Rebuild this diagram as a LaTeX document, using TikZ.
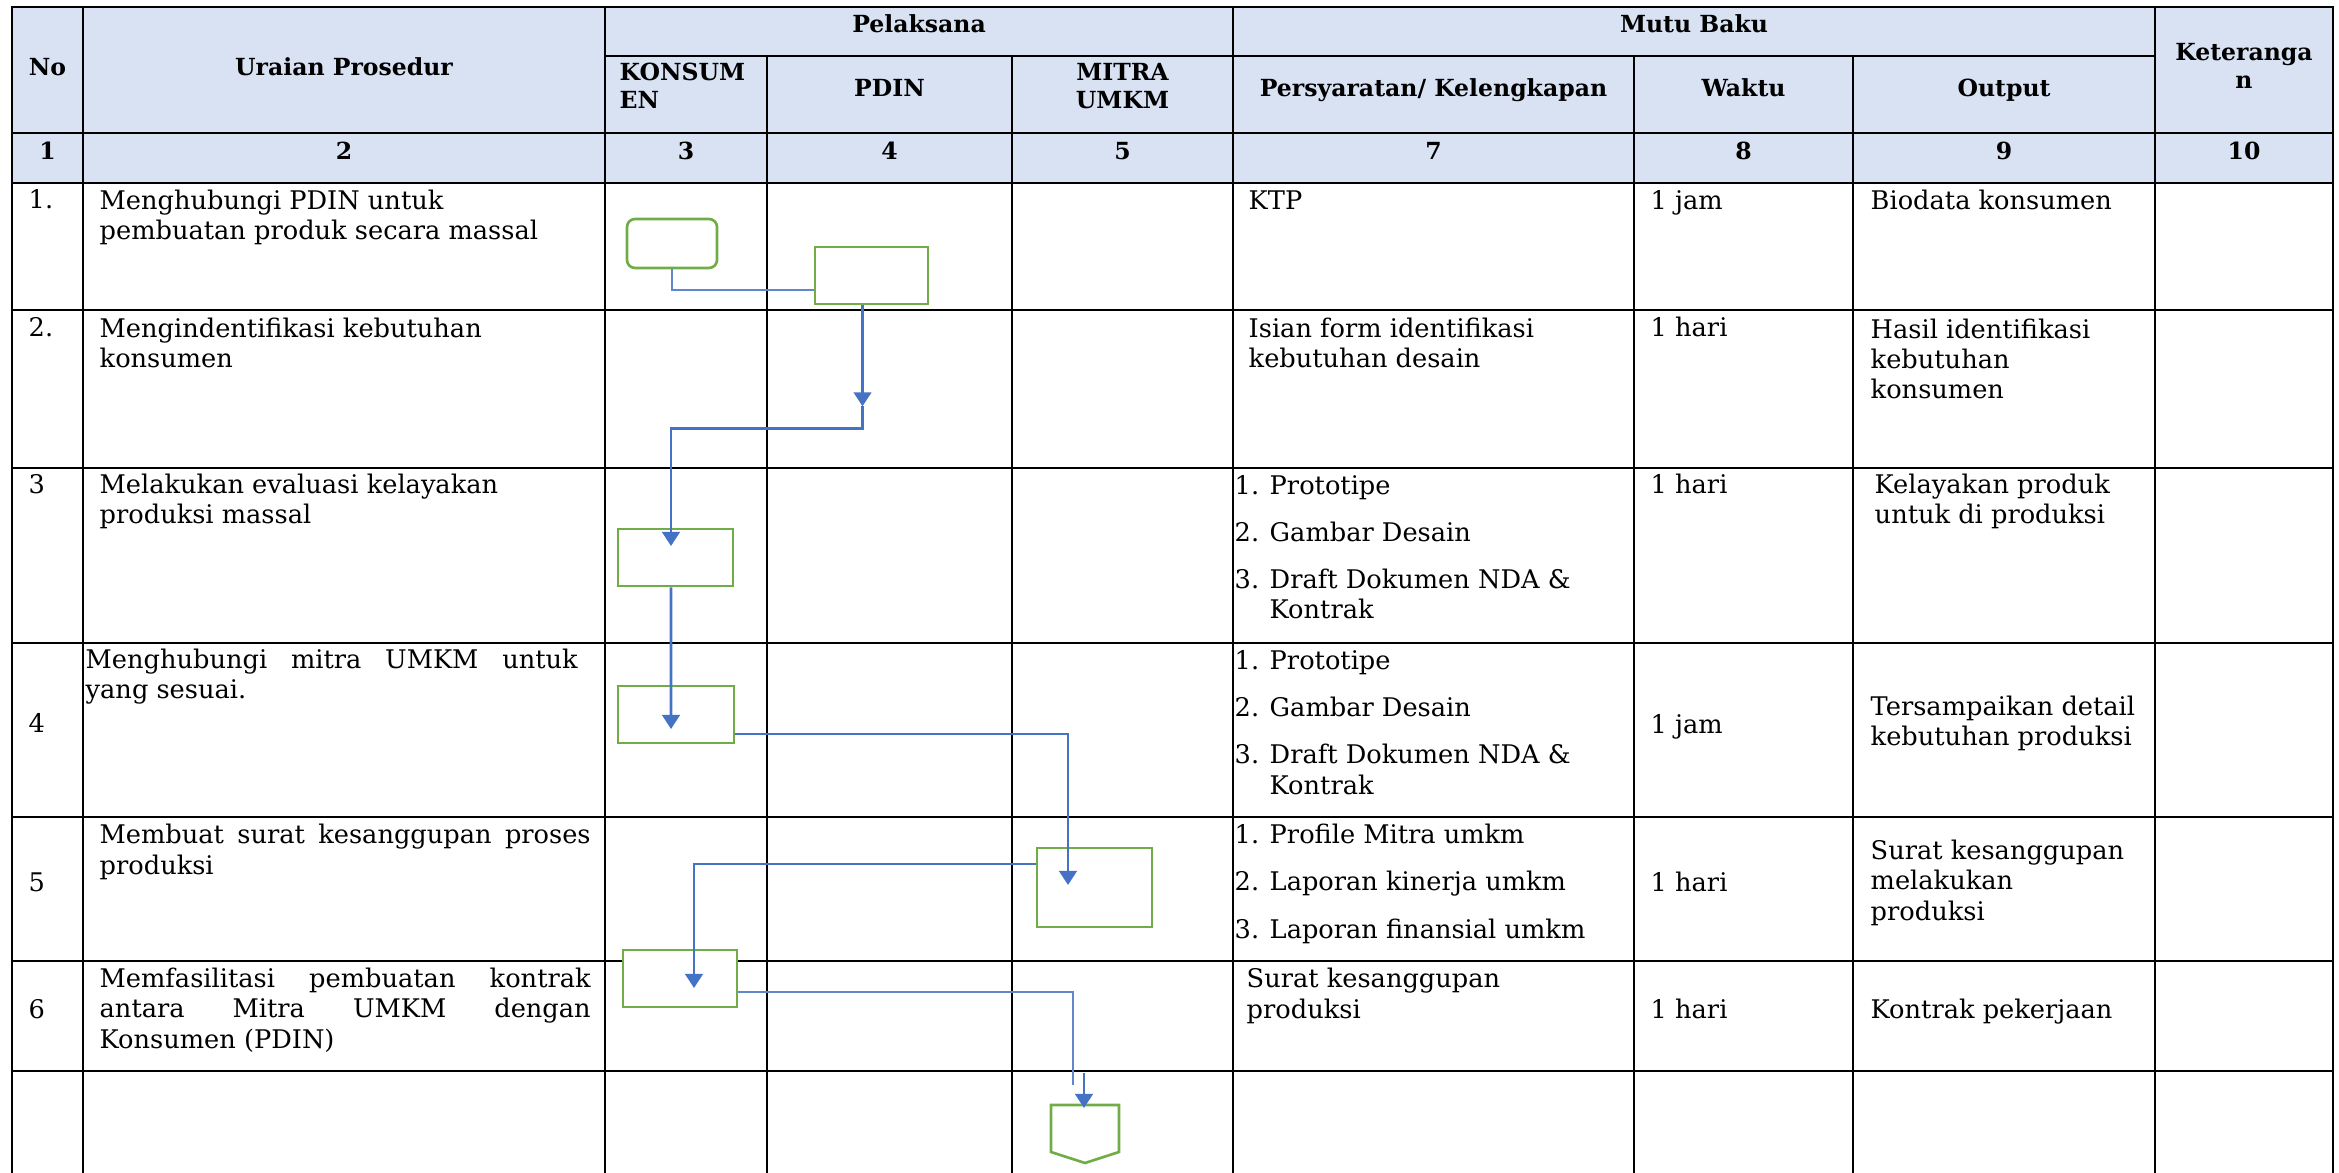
\documentclass[tikz,border=0pt]{standalone}
\usepackage{fontspec}
\setmainfont{DejaVu Serif}
\usetikzlibrary{arrows.meta}

\definecolor{hdrblue}{HTML}{D9E2F3}
\definecolor{boxgreen}{HTML}{70AD47}
\definecolor{linkblue}{HTML}{4472C4}

\newcommand{\itm}[1]{\makebox[0.35cm][l]{#1}}
\newcommand{\jline}[1]{\makebox[4.91cm][s]{#1}}

\begin{document}
\begin{tikzpicture}[
    hd/.style={font=\bfseries\fontsize{6.7}{8.2}\selectfont, align=center, anchor=base, inner sep=0},
    txt/.style={font=\fontsize{7.3}{8.6}\selectfont, align=left, anchor=base west, inner sep=0},
    grid/.style={line width=0.75pt, line cap=rect},
    flowbox/.style={draw=boxgreen, fill=white, line width=0.75pt, inner sep=0, minimum height=0.57cm},
    link/.style={draw=linkblue, line width=0.75pt, -{Triangle[width=5pt,length=4pt]}},
    thinlink/.style={draw=linkblue!85!white, line width=0.35pt}]
    \useasboundingbox (0,0) rectangle (23.39,-11.73);

    % header background
    \fill[hdrblue] (0.12,-0.07) rectangle (23.33,-1.83);

    % table lines
    \draw[grid] (0.12,-0.07) -- (23.33,-0.07);
    \draw[grid] (6.05,-0.56) -- (21.55,-0.56);
    \draw[grid] (0.12,-1.33) -- (23.33,-1.33);
    \draw[grid] (0.12,-1.83) -- (23.33,-1.83);
    \draw[grid] (0.12,-3.10) -- (23.33,-3.10);
    \draw[grid] (0.12,-4.68) -- (23.33,-4.68);
    \draw[grid] (0.12,-6.43) -- (23.33,-6.43);
    \draw[grid] (0.12,-8.17) -- (23.33,-8.17);
    \draw[grid] (0.12,-9.61) -- (23.33,-9.61);
    \draw[grid] (0.12,-10.71) -- (23.33,-10.71);
    \draw[grid] (0.12,-0.07) -- (0.12,-11.73);
    \draw[grid] (0.83,-0.07) -- (0.83,-11.73);
    \draw[grid] (6.05,-0.07) -- (6.05,-11.73);
    \draw[grid] (7.67,-0.56) -- (7.67,-11.73);
    \draw[grid] (10.12,-0.56) -- (10.12,-11.73);
    \draw[grid] (12.33,-0.07) -- (12.33,-11.73);
    \draw[grid] (16.34,-0.56) -- (16.34,-11.73);
    \draw[grid] (18.53,-0.56) -- (18.53,-11.73);
    \draw[grid] (21.55,-0.07) -- (21.55,-11.73);
    \draw[grid] (23.33,-0.07) -- (23.33,-11.73);

    % header (multi-line nodes sit on their last line)
    \node[hd] (hno) at (0.475,-0.76) {No};
    \node[hd] (hur) at (3.44,-0.76) {Uraian Prosedur};
    \node[hd] (hpel) at (9.19,-0.33) {Pelaksana};
    \node[hd, anchor=base west, align=left] (hkon) at (6.19,-1.09) {KONSUM\\EN};
    \node[hd] (hpdin) at (8.895,-0.97) {PDIN};
    \node[hd] (hmit) at (11.225,-1.09) {MITRA\\UMKM};
    \node[hd] (hmutu) at (16.94,-0.33) {Mutu Baku};
    \node[hd] (hsyr) at (14.335,-0.97) {Persyaratan/ Kelengkapan};
    \node[hd] (hwkt) at (17.435,-0.97) {Waktu};
    \node[hd] (hout) at (20.04,-0.97) {Output};
    \node[hd] (hket) at (22.44,-0.89) {Keteranga\\n};

    \node[hd] (n1) at (0.475,-1.60) {1};
    \node[hd] (n2) at (3.44,-1.60) {2};
    \node[hd] (n3) at (6.86,-1.60) {3};
    \node[hd] (n4) at (8.895,-1.60) {4};
    \node[hd] (n5) at (11.225,-1.60) {5};
    \node[hd] (n7) at (14.335,-1.60) {7};
    \node[hd] (n8) at (17.435,-1.60) {8};
    \node[hd] (n9) at (20.04,-1.60) {9};
    \node[hd] (n10) at (22.44,-1.60) {10};

    % row 1
    \node[txt] (no1) at (0.28,-2.09) {1.};
    \node[txt] (ur1) at (0.99,-2.40) {Menghubungi PDIN untuk\\pembuatan produk secara massal};
    \node[txt] (syr1) at (12.48,-2.10) {KTP};
    \node[txt] (wkt1) at (16.50,-2.10) {1 jam};
    \node[txt] (out1) at (18.70,-2.10) {Biodata konsumen};

    % row 2
    \node[txt] (no2) at (0.28,-3.37) {2.};
    \node[txt] (ur2) at (0.99,-3.68) {Mengindentifikasi kebutuhan\\konsumen};
    \node[txt] (syr2) at (12.48,-3.68) {Isian form identifikasi\\kebutuhan desain};
    \node[txt] (wkt2) at (16.50,-3.37) {1 hari};
    \node[txt] (out2) at (18.70,-3.99) {Hasil identifikasi\\kebutuhan\\konsumen};

    % row 3
    \node[txt] (no3) at (0.28,-4.94) {3};
    \node[txt] (ur3) at (0.99,-5.24) {Melakukan evaluasi kelayakan\\produksi massal};
    \node[txt] (syr3) at (12.34,-6.19) {\itm{1.}Prototipe\\[4.8pt]\itm{2.}Gambar Desain\\[4.8pt]\itm{3.}Draft Dokumen NDA \&\\\hspace*{0.35cm}Kontrak};
    \node[txt] (wkt3) at (16.50,-4.94) {1 hari};
    \node[txt] (out3) at (18.74,-5.24) {Kelayakan produk\\untuk di produksi};

    % row 4
    \node[txt] (no4) at (0.28,-7.33) {4};
    \node[txt] (ur4) at (0.85,-6.99) {\makebox[4.92cm][s]{Menghubungi mitra UMKM untuk}\\yang sesuai.};
    \node[txt] (syr4) at (12.34,-7.94) {\itm{1.}Prototipe\\[4.8pt]\itm{2.}Gambar Desain\\[4.8pt]\itm{3.}Draft Dokumen NDA \&\\\hspace*{0.35cm}Kontrak};
    \node[txt] (wkt4) at (16.50,-7.34) {1 jam};
    \node[txt] (out4) at (18.70,-7.46) {Tersampaikan detail\\kebutuhan produksi};

    % row 5
    \node[txt] (no5) at (0.28,-8.92) {5};
    \node[txt] (ur5) at (0.99,-8.74) {\jline{Membuat surat kesanggupan proses}\\produksi};
    \node[txt] (syr5) at (12.34,-9.38) {\itm{1.}Profile Mitra umkm\\[4.8pt]\itm{2.}Laporan kinerja umkm\\[4.8pt]\itm{3.}Laporan finansial umkm};
    \node[txt] (wkt5) at (16.50,-8.92) {1 hari};
    \node[txt] (out5) at (18.70,-9.20) {Surat kesanggupan\\melakukan\\produksi};

    % row 6
    \node[txt] (no6) at (0.28,-10.18) {6};
    \node[txt] (ur6) at (0.99,-10.48) {\jline{Memfasilitasi pembuatan kontrak}\\\jline{antara Mitra UMKM dengan}\\Konsumen (PDIN)};
    \node[txt] (syr6) at (12.46,-10.18) {Surat kesanggupan\\produksi};
    \node[txt] (wkt6) at (16.50,-10.18) {1 hari};
    \node[txt] (out6) at (18.70,-10.18) {Kontrak pekerjaan};

    % flow shapes
    \node[flowbox, rounded corners=0.08cm, minimum width=0.90cm, minimum height=0.49cm] (start) at (6.72,-2.435) {};
    \node[flowbox, minimum width=1.13cm] (p1) at (8.715,-2.755) {};
    \node[flowbox, minimum width=1.15cm] (k3) at (6.755,-5.575) {};
    \node[flowbox, minimum width=1.16cm] (k4) at (6.76,-7.145) {};
    \node[flowbox, minimum width=1.15cm, minimum height=0.79cm] (m5) at (10.945,-8.875) {};
    \node[flowbox, minimum width=1.14cm] (k6) at (6.80,-9.785) {};
    \draw[draw=boxgreen, fill=white, line width=0.75pt] (10.51,-11.05) -- (11.19,-11.05) -- (11.19,-11.52) -- (10.85,-11.63) -- (10.51,-11.52) -- cycle;
    \coordinate (off) at (10.85,-11.05);
    \coordinate (end6) at (10.73,-10.85);

    % connectors
    \draw[thinlink] (start.south) |- ([yshift=-0.145cm]p1.west);
    \draw[link] ([xshift=-0.09cm]p1.south) -- ++(0,-1.01) coordinate (bend2);
    \draw[link] (bend2) -- ++(0,-0.22) -| ([xshift=-0.045cm,yshift=0.115cm]k3.center);
    \draw[link] ([xshift=-0.045cm]k3.south) -- ([xshift=-0.05cm,yshift=-0.145cm]k4.center);
    \draw[link] ([yshift=-0.195cm]k4.east) -| ([xshift=-0.265cm,yshift=0.025cm]m5.center);
    \draw[link] ([yshift=0.235cm]m5.west) -| ([xshift=0.14cm,yshift=-0.095cm]k6.center);
    \draw[thinlink] ([yshift=-0.135cm]k6.east) -| (end6);
    \draw[link] ([xshift=-0.01cm,yshift=0.32cm]off) -- ([xshift=-0.01cm,yshift=-0.03cm]off);
\end{tikzpicture}
\end{document}
